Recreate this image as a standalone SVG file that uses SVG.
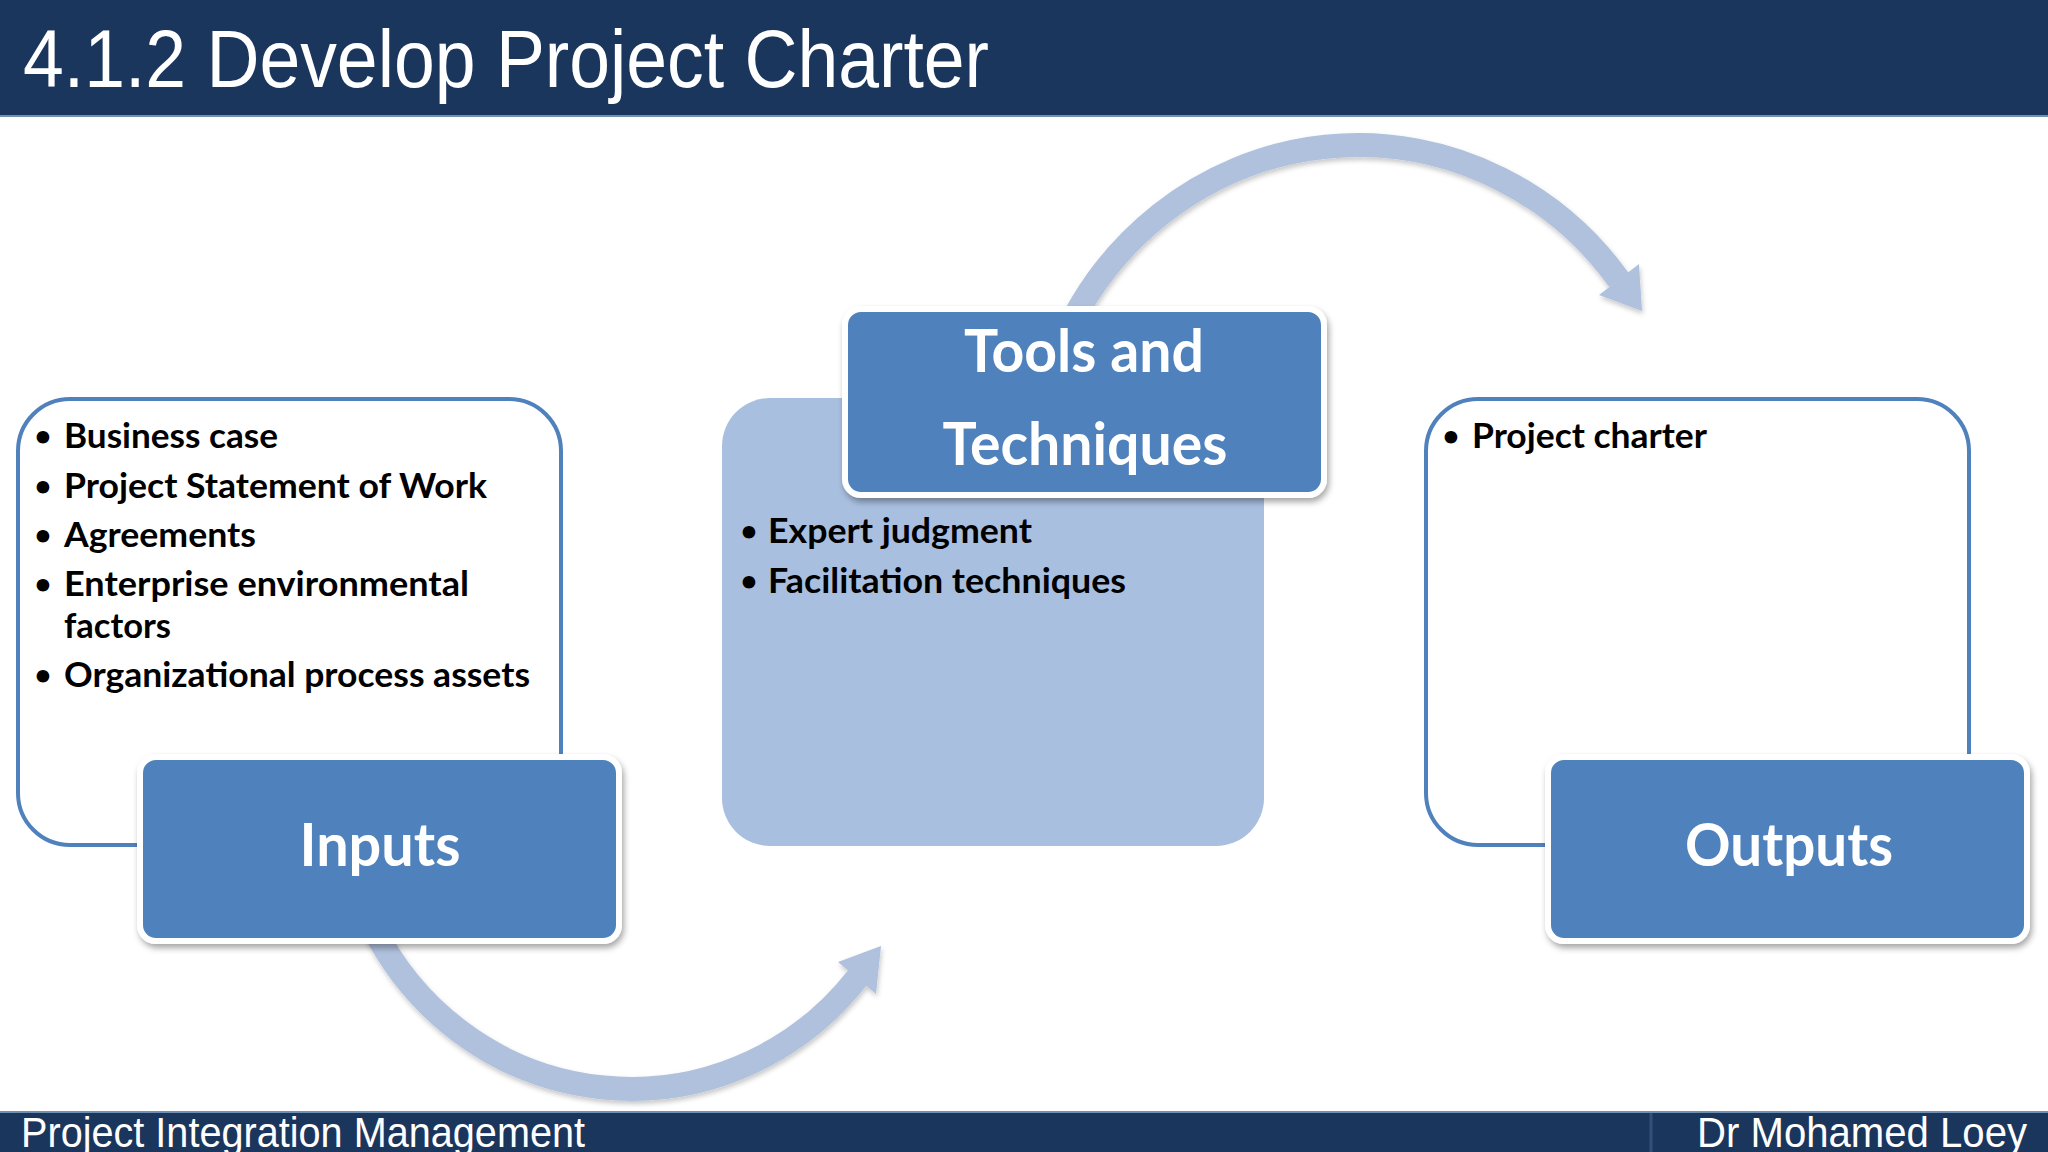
<svg xmlns="http://www.w3.org/2000/svg" width="2048" height="1152" viewBox="0 0 2048 1152">
  <defs>
    <filter id="boxShadow" x="-10%" y="-10%" width="120%" height="130%">
      <feDropShadow dx="2" dy="4" stdDeviation="3" flood-color="#000" flood-opacity="0.35"/>
    </filter>
    <filter id="arrowShadow" x="-10%" y="-10%" width="120%" height="130%">
      <feDropShadow dx="1" dy="3" stdDeviation="2.5" flood-color="#000" flood-opacity="0.22"/>
    </filter>
    <style>
      .band { fill: #1b365d; }
      .bandline { stroke: #6f8fb3; stroke-width: 2; }
      .title { font-family: "Liberation Sans", Arial, sans-serif; fill: #ffffff; }
      .listbox { fill: #ffffff; stroke: #4f81bd; stroke-width: 4; }
      .label { fill: #4f81bd; stroke: #ffffff; stroke-width: 6; }
      .labeltext { font-family: Lato, "Open Sans", sans-serif; font-weight: 700; fill: #ffffff; text-anchor: middle; }
      .item { font-family: Lato, "Open Sans", sans-serif; font-weight: 700; font-size: 35px; fill: #000000; }
      .bullet { font-family: Lato, "Open Sans", sans-serif; font-weight: 700; font-size: 29px; fill: #000000; text-anchor: middle; }
      .arc { fill: none; stroke: #b0c1de; stroke-width: 24; stroke-linecap: butt; }
      .head { fill: #b0c1de; }
    </style>
  </defs>

  <rect width="2048" height="1152" fill="#ffffff"/>

  <!-- Header -->
  <g id="header">
    <rect class="band" x="0" y="0" width="2048" height="117"/>
    <line class="bandline" x1="0" y1="116" x2="2048" y2="116"/>
    <text class="title" x="23" y="87" font-size="82" textLength="966" lengthAdjust="spacingAndGlyphs">4.1.2 Develop Project Charter</text>
  </g>

  <!-- Footer -->
  <g id="footer">
    <rect class="band" x="0" y="1111" width="2048" height="41"/>
    <line class="bandline" x1="0" y1="1112" x2="2048" y2="1112"/>
    <line x1="1651" y1="1113" x2="1651" y2="1152" stroke="#34507a" stroke-width="3"/>
    <text class="title" x="21" y="1147" font-size="42" textLength="564" lengthAdjust="spacingAndGlyphs">Project Integration Management</text>
    <text class="title" x="1697" y="1147" font-size="42" textLength="330" lengthAdjust="spacingAndGlyphs">Dr Mohamed Loey</text>
  </g>

  <!-- Connectors -->
  <g id="connectors" filter="url(#arrowShadow)">
    <g id="arrow-inputs-to-tools">
      <path class="arc" d="M 372 925 A 290 297 0 0 0 858 977"/>
      <polygon class="head" points="881,946 876,994 838,962"/>
    </g>
    <g id="arrow-tools-to-outputs">
      <path class="arc" d="M 1064 338 A 325 335 0 0 1 1619 280"/>
      <polygon class="head" points="1642,311 1639,264 1599,295"/>
    </g>
  </g>

  <!-- Tools and Techniques -->
  <g id="node-tools-list">
    <rect x="722" y="398" width="542" height="448" rx="48" ry="48" fill="#a9bfe0"/>
    <text class="bullet" x="749" y="541">•</text>
    <text class="item" x="768" y="543" textLength="264" lengthAdjust="spacingAndGlyphs">Expert judgment</text>
    <text class="bullet" x="749" y="591">•</text>
    <text class="item" x="768" y="593" textLength="358" lengthAdjust="spacingAndGlyphs">Facilitation techniques</text>
  </g>
  <g id="node-tools" filter="url(#boxShadow)">
    <rect class="label" x="845" y="309" width="479" height="186" rx="16" ry="16"/>
    <text class="labeltext" x="1084" y="372" font-size="60" textLength="240" lengthAdjust="spacingAndGlyphs">Tools and</text>
    <text class="labeltext" x="1085" y="465" font-size="60" textLength="285" lengthAdjust="spacingAndGlyphs">Techniques</text>
  </g>

  <!-- Inputs -->
  <g id="node-inputs-list">
    <rect class="listbox" x="18" y="399" width="543" height="446" rx="52" ry="52"/>
    <text class="bullet" x="43" y="446">•</text>
    <text class="item" x="64" y="448" textLength="214" lengthAdjust="spacingAndGlyphs">Business case</text>
    <text class="bullet" x="43" y="496">•</text>
    <text class="item" x="64" y="498" textLength="423" lengthAdjust="spacingAndGlyphs">Project Statement of Work</text>
    <text class="bullet" x="43" y="545">•</text>
    <text class="item" x="64" y="547" textLength="192" lengthAdjust="spacingAndGlyphs">Agreements</text>
    <text class="bullet" x="43" y="594">•</text>
    <text class="item" x="64" y="596" textLength="405" lengthAdjust="spacingAndGlyphs">Enterprise environmental</text>
    <text class="item" x="64" y="638" textLength="107" lengthAdjust="spacingAndGlyphs">factors</text>
    <text class="bullet" x="43" y="685">•</text>
    <text class="item" x="64" y="687" textLength="466" lengthAdjust="spacingAndGlyphs">Organizational process assets</text>
  </g>
  <g id="node-inputs" filter="url(#boxShadow)">
    <rect class="label" x="140" y="757" width="479" height="184" rx="16" ry="16"/>
    <text class="labeltext" x="380" y="866" font-size="60" textLength="161" lengthAdjust="spacingAndGlyphs">Inputs</text>
  </g>

  <!-- Outputs -->
  <g id="node-outputs-list">
    <rect class="listbox" x="1426" y="399" width="543" height="446" rx="52" ry="52"/>
    <text class="bullet" x="1451" y="446">•</text>
    <text class="item" x="1472" y="448" textLength="235" lengthAdjust="spacingAndGlyphs">Project charter</text>
  </g>
  <g id="node-outputs" filter="url(#boxShadow)">
    <rect class="label" x="1548" y="757" width="479" height="184" rx="16" ry="16"/>
    <text class="labeltext" x="1789" y="866" font-size="60" textLength="208" lengthAdjust="spacingAndGlyphs">Outputs</text>
  </g>
</svg>
